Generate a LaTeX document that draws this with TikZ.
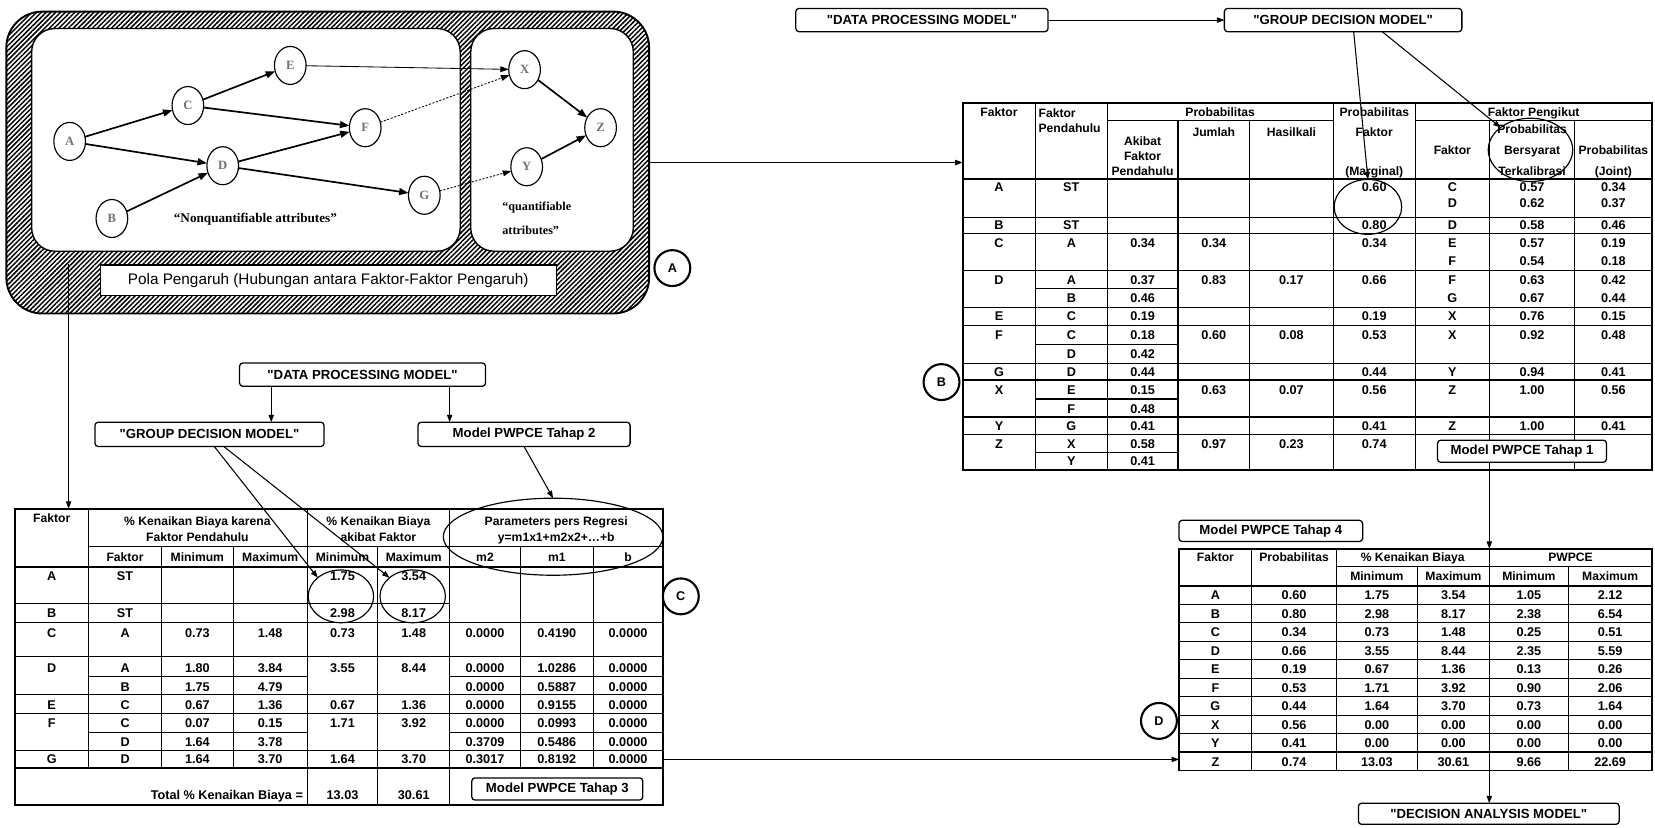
\documentclass[tikz,border=0pt]{standalone}
\usepackage{fontspec}
\setmainfont{Liberation Sans}[Ligatures=TeXOff]
\newfontfamily\serifx{Liberation Serif}
\usetikzlibrary{arrows.meta,patterns.meta,shapes.geometric}
\newcounter{tn}
\newcommand\Rw[3][dat]{\foreach \xx/\vv in {#3}{\stepcounter{tn}\node[#1] (n\arabic{tn}) at (\xx,#2) {\vv};}}
\begin{document}
\begin{tikzpicture}[x=1pt,y=-1pt,
  every node/.style={inner sep=0pt,outer sep=0pt},
  dat/.style={font=\fontsize{12}{14}\selectfont\bfseries,text height=8.6pt,text depth=0pt},
  hd/.style={font=\fontsize{11.5}{14}\selectfont\bfseries,text height=8.3pt,text depth=0pt},
  hdl/.style={hd,anchor=west},
  tl/.style={line width=1.1pt},
  tlb/.style={line width=1.8pt},
  arr/.style={-{Triangle[length=7pt,width=5pt]},line width=1pt},
  mbox/.style={draw,line width=1.2pt,rounded corners=3pt,fill=white,font=\fontsize{12.5}{14}\selectfont\bfseries},
  gn/.style={draw,ellipse,line width=1.1pt,minimum width=30pt,minimum height=36pt,fill=white,font=\serifx\bfseries\fontsize{12}{14}\selectfont,text=black!55},
  ge/.style={-{Triangle[length=9pt,width=6.5pt]},line width=1.6pt},
  gt/.style={-{Triangle[length=8pt,width=5.5pt]},line width=0.8pt},
  gd/.style={gt,dash pattern=on 2pt off 1.5pt},
  circ/.style={draw,circle,line width=2pt,minimum size=34pt,fill=white,font=\fontsize{12}{14}\selectfont\bfseries},
  ell/.style={draw,ellipse,line width=1.1pt}
]
\useasboundingbox (0,0) rectangle (1568,784);
\fill[white] (0,0) rectangle (1568,784);

% ---------------- hatched influence pattern box ----------------
\draw[line width=1.8pt,rounded corners=34pt,pattern={Lines[angle=45,distance=3.2pt,line width=1.4pt]}] (6,11) rectangle (615,297);
\draw[line width=1.3pt,fill=white,rounded corners=22pt] (30,27) rectangle (436,238);
\draw[line width=1.3pt,fill=white,rounded corners=22pt] (446,27) rectangle (600,238);
\node[draw,fill=white,line width=1.1pt,minimum width=432pt,minimum height=29pt,font=\fontsize{14.5}{16}\selectfont] (pola) at (311,265.5) {Pola Pengaruh (Hubungan antara Faktor-Faktor Pengaruh)};

\node[gn] (gA) at (66,134) {A};
\node[gn] (gC) at (178,100) {C};
\node[gn] (gE) at (275,62) {E};
\node[gn] (gF) at (346,121) {F};
\node[gn] (gD) at (211,157) {D};
\node[gn] (gB) at (106,207) {B};
\node[gn] (gG) at (402,185) {G};
\node[gn] (gX) at (497,66) {X};
\node[gn] (gY) at (499,158) {Y};
\node[gn] (gZ) at (569,121) {Z};
\draw[ge] (gA) -- (gC); \draw[ge] (gA) -- (gD); \draw[ge] (gB) -- (gD);
\draw[ge] (gC) -- (gE); \draw[ge] (gC) -- (gF); \draw[ge] (gD) -- (gF);
\draw[ge] (gD) -- (gG); \draw[ge] (gX) -- (gZ); \draw[ge] (gY) -- (gZ);
\draw[gt] (gE) -- (gX); \draw[gd] (gF) -- (gX); \draw[gd] (gG) -- (gY);
\node[font=\serifx\bfseries\fontsize{12.5}{14}\selectfont] (nq) at (242,208) {“Nonquantifiable attributes”};
\node[font=\serifx\bfseries\fontsize{11.5}{14}\selectfont,anchor=west] (qa1) at (476,197) {“quantifiable};
\node[font=\serifx\bfseries\fontsize{11.5}{14}\selectfont,anchor=west] (qa2) at (476,218) {attributes”};

% ---------------- circles ----------------
\node[circ] (cA) at (637,254) {A};
\node[circ] (cB) at (892,362) {B};
\node[circ] (cC) at (645,565) {C};
\node[circ] (cD) at (1098,683) {D};

% ---------------- connectors from box ----------------
\coordinate (hbR) at (615,154); \coordinate (trL) at (912,154);
\draw[arr] (hbR) -- (trL);
\coordinate (hbB) at (65,250); \coordinate (blT) at (65,482);
\draw[arr] (hbB) -- (blT);

% ---------------- top model boxes ----------------
\node[mbox,minimum width=239pt,minimum height=22pt] (dpm1) at (873.5,19) {"DATA PROCESSING MODEL"};
\node[mbox,minimum width=225pt,minimum height=22pt] (gdm1) at (1272.5,19) {"GROUP DECISION MODEL"};
\draw[arr] (dpm1) -- (gdm1);

% ---------------- top-right table ----------------
\draw[tlb] (912,98) rectangle (1565,445);
\foreach \x in {981,1049,1263,1341} \draw[tl] (\x,98) -- (\x,445);
\foreach \x in {1116,1184,1411,1492} \draw[tl] (\x,114) -- (\x,445);
\draw[tl] (1049,114) -- (1263,114);
\draw[tl] (1341,114) -- (1565,114);
\draw[tlb] (912,170) -- (1565,170);
\foreach \y in {206,221,256,291,308,344,360,395,412} \draw[tl] (912,\y) -- (1565,\y);
\foreach \y in {273,326,378,429} \draw[tl] (981,\y) -- (1116,\y);

\Rw[hd]{106}{946.5/Faktor, 1156/Probabilitas, 1302/Probabilitas, 1453/Faktor Pengikut}
\Rw[hdl]{107}{984/Faktor}
\Rw[hdl]{121}{984/Pendahulu}
\Rw[hd]{125}{1150/Jumlah, 1223.5/Hasilkali, 1302/Faktor}
\Rw[hd]{122}{1451.5/Probabilitas}
\Rw[hd]{134}{1082.5/Akibat}
\Rw[hd]{142}{1376/Faktor, 1451.5/Bersyarat, 1528.5/Probabilitas}
\Rw[hd]{148}{1082.5/Faktor}
\Rw[hd]{162}{1082.5/Pendahulu, 1302/(Marginal), 1451.5/Terkalibrasi, 1528.5/(Joint)}

\Rw{177}{946.5/A, 1015/ST, 1302/0.60, 1376/C, 1451.5/0.57, 1528.5/0.34}
\Rw{192}{1376/D, 1451.5/0.62, 1528.5/0.37}
\Rw{213.5}{946.5/B, 1015/ST, 1302/0.80, 1376/D, 1451.5/0.58, 1528.5/0.46}
\Rw{230}{946.5/C, 1015/A, 1082.5/0.34, 1150/0.34, 1302/0.34, 1376/E, 1451.5/0.57, 1528.5/0.19}
\Rw{247}{1376/F, 1451.5/0.54, 1528.5/0.18}
\Rw{265}{946.5/D, 1015/A, 1082.5/0.37, 1150/0.83, 1223.5/0.17, 1302/0.66, 1376/F, 1451.5/0.63, 1528.5/0.42}
\Rw{282}{1015/B, 1082.5/0.46, 1376/G, 1451.5/0.67, 1528.5/0.44}
\Rw{299.5}{946.5/E, 1015/C, 1082.5/0.19, 1302/0.19, 1376/X, 1451.5/0.76, 1528.5/0.15}
\Rw{317}{946.5/F, 1015/C, 1082.5/0.18, 1150/0.60, 1223.5/0.08, 1302/0.53, 1376/X, 1451.5/0.92, 1528.5/0.48}
\Rw{335}{1015/D, 1082.5/0.42}
\Rw{352}{946.5/G, 1015/D, 1082.5/0.44, 1302/0.44, 1376/Y, 1451.5/0.94, 1528.5/0.41}
\Rw{369}{946.5/X, 1015/E, 1082.5/0.15, 1150/0.63, 1223.5/0.07, 1302/0.56, 1376/Z, 1451.5/1.00, 1528.5/0.56}
\Rw{387}{1015/F, 1082.5/0.48}
\Rw{403.5}{946.5/Y, 1015/G, 1082.5/0.41, 1302/0.41, 1376/Z, 1451.5/1.00, 1528.5/0.41}
\Rw{421}{946.5/Z, 1015/X, 1082.5/0.58, 1150/0.97, 1223.5/0.23, 1302/0.74}
\Rw{437}{1015/Y, 1082.5/0.41}

\node[mbox,minimum width=160pt,minimum height=21pt] (pw1) at (1442,427.5) {Model PWPCE Tahap 1};
\node[ell,minimum width=64pt,minimum height=52pt] (eM) at (1296,196) {};
\node[ell,minimum width=80pt,minimum height=60pt] (eP) at (1450,142) {};
\draw[arr] ([xshift=10pt]gdm1.south) -- (eM.north);
\draw[arr] ([xshift=37pt]gdm1.south) -- (eP.north west);

% ---------------- bottom-left models ----------------
\node[mbox,minimum width=233pt,minimum height=22pt] (dpm2) at (343.5,355) {"DATA PROCESSING MODEL"};
\node[mbox,minimum width=217pt,minimum height=23pt] (gdm2) at (198.5,411.5) {"GROUP DECISION MODEL"};
\node[mbox,minimum width=201pt,minimum height=23pt] (pw2) at (496.5,411.5) {Model PWPCE Tahap 2};
\draw[arr] ([xshift=-86.5pt]dpm2.south) -- ([xshift=58.5pt]gdm2.north);
\draw[arr] ([xshift=82.5pt]dpm2.south) -- ([xshift=-70.5pt]pw2.north);

% ---------------- bottom-left table ----------------
\draw[tlb] (14,482) rectangle (628,763);
\draw[tl] (84,482) -- (84,728);
\draw[tl] (291,482) -- (291,763);
\draw[tl] (426,482) -- (426,763);
\draw[tl] (358,518) -- (358,763);
\foreach \x in {153,221,493,562} \draw[tl] (\x,518) -- (\x,728);
\draw[tl] (84,518) -- (628,518);
\draw[tlb] (14,537) -- (628,537);
\draw[tl] (14,572) -- (426,572);
\foreach \y in {590,622,658,676,711} \draw[tl] (14,\y) -- (628,\y);
\foreach \y in {641,694} {\draw[tl] (84,\y) -- (291,\y); \draw[tl] (426,\y) -- (628,\y);}
\draw[tlb] (14,728) -- (628,728);

\Rw[hd]{491}{49/Faktor}
\Rw[hd]{494}{187/\% Kenaikan Biaya karena, 358.5/\% Kenaikan Biaya, 527/Parameters pers Regresi}
\Rw[hd]{509}{187/Faktor Pendahulu, 358.5/akibat Faktor}
\node[hd] (hreg) at (527,509) {y=m1x1+m2x2+\dots+b};
\Rw[hd]{528}{118.5/Faktor, 187/Minimum, 256/Maximum, 324.5/Minimum, 392/Maximum, 459.5/m2, 527.5/m1, 595/b}

\Rw{546}{49/A, 118.5/ST, 324.5/1.75, 392/3.54}
\Rw{581}{49/B, 118.5/ST, 324.5/2.98, 392/8.17}
\Rw{599.5}{49/C, 118.5/A, 187/0.73, 256/1.48, 324.5/0.73, 392/1.48, 459.5/0.0000, 527.5/0.4190, 595/0.0000}
\Rw{633}{49/D, 118.5/A, 187/1.80, 256/3.84, 324.5/3.55, 392/8.44, 459.5/0.0000, 527.5/1.0286, 595/0.0000}
\Rw{650.5}{118.5/B, 187/1.75, 256/4.79, 459.5/0.0000, 527.5/0.5887, 595/0.0000}
\Rw{667.5}{49/E, 118.5/C, 187/0.67, 256/1.36, 324.5/0.67, 392/1.36, 459.5/0.0000, 527.5/0.9155, 595/0.0000}
\Rw{685}{49/F, 118.5/C, 187/0.07, 256/0.15, 324.5/1.71, 392/3.92, 459.5/0.0000, 527.5/0.0993, 595/0.0000}
\Rw{703}{118.5/D, 187/1.64, 256/3.78, 459.5/0.3709, 527.5/0.5486, 595/0.0000}
\Rw{719.5}{49/G, 118.5/D, 187/1.64, 256/3.70, 324.5/1.64, 392/3.70, 459.5/0.3017, 527.5/0.8192, 595/0.0000}
\Rw{753}{324.5/13.03, 392/30.61}
\node[dat,anchor=east] (tot) at (287,753) {Total \% Kenaikan Biaya =};
\node[mbox,minimum width=162pt,minimum height=21pt] (pw3) at (528,747.5) {Model PWPCE Tahap 3};

\node[ell,minimum width=62pt,minimum height=50pt] (e1) at (323,565) {};
\node[ell,minimum width=62pt,minimum height=50pt] (e2) at (391,565) {};
\node[ell,minimum width=208pt,minimum height=73pt] (eR) at (524,508.5) {};
\draw[arr] ([xshift=4.5pt]gdm2.south) -- (e1.north west);
\draw[arr] ([xshift=13.5pt]gdm2.south) -- (e2.north west);
\draw[arr] (pw2.south) -- (eR.north);

% ---------------- bottom-right table ----------------
\node[mbox,minimum width=174pt,minimum height=20pt] (pw4) at (1204,503) {Model PWPCE Tahap 4};
\draw[tlb] (1117,520) rectangle (1565,730);
\foreach \x in {1186,1266,1411} \draw[tl] (\x,520) -- (\x,730);
\foreach \x in {1343,1486} \draw[tl] (\x,537) -- (\x,730);
\draw[tl] (1266,537) -- (1565,537);
\draw[tlb] (1117,555) -- (1565,555);
\foreach \k in {1,...,9} \draw[tl] (1117,{555+17.5*\k}) -- (1565,{555+17.5*\k});
\Rw[hd]{528}{1151.5/Faktor, 1226/Probabilitas, 1338.5/\% Kenaikan Biaya, 1488/PWPCE}
\Rw[hd]{546}{1304.5/Minimum, 1377/Maximum, 1448.5/Minimum, 1525.5/Maximum}
\Rw{564}{1151.5/A, 1226/0.60, 1304.5/1.75, 1377/3.54, 1448.5/1.05, 1525.5/2.12}
\Rw{581.5}{1151.5/B, 1226/0.80, 1304.5/2.98, 1377/8.17, 1448.5/2.38, 1525.5/6.54}
\Rw{599}{1151.5/C, 1226/0.34, 1304.5/0.73, 1377/1.48, 1448.5/0.25, 1525.5/0.51}
\Rw{616.5}{1151.5/D, 1226/0.66, 1304.5/3.55, 1377/8.44, 1448.5/2.35, 1525.5/5.59}
\Rw{634}{1151.5/E, 1226/0.19, 1304.5/0.67, 1377/1.36, 1448.5/0.13, 1525.5/0.26}
\Rw{651.5}{1151.5/F, 1226/0.53, 1304.5/1.71, 1377/3.92, 1448.5/0.90, 1525.5/2.06}
\Rw{669}{1151.5/G, 1226/0.44, 1304.5/1.64, 1377/3.70, 1448.5/0.73, 1525.5/1.64}
\Rw{686.5}{1151.5/X, 1226/0.56, 1304.5/0.00, 1377/0.00, 1448.5/0.00, 1525.5/0.00}
\Rw{704}{1151.5/Y, 1226/0.41, 1304.5/0.00, 1377/0.00, 1448.5/0.00, 1525.5/0.00}
\Rw{721.5}{1151.5/Z, 1226/0.74, 1304.5/13.03, 1377/30.61, 1448.5/9.66, 1525.5/22.69}

\node[mbox,minimum width=247pt,minimum height=20pt] (dam) at (1410.5,771) {"DECISION ANALYSIS MODEL"};
\coordinate (brT) at (1411,520); \coordinate (brB) at (1411,730);
\draw[arr] (pw1.south -| brT) -- (brT);
\draw[arr] (brB) -- (dam.north -| brB);

\coordinate (blG) at (628,719.5); \coordinate (brZ) at (1117,719.5);
\draw[arr] (blG) -- (brZ);
\end{tikzpicture}
\end{document}
